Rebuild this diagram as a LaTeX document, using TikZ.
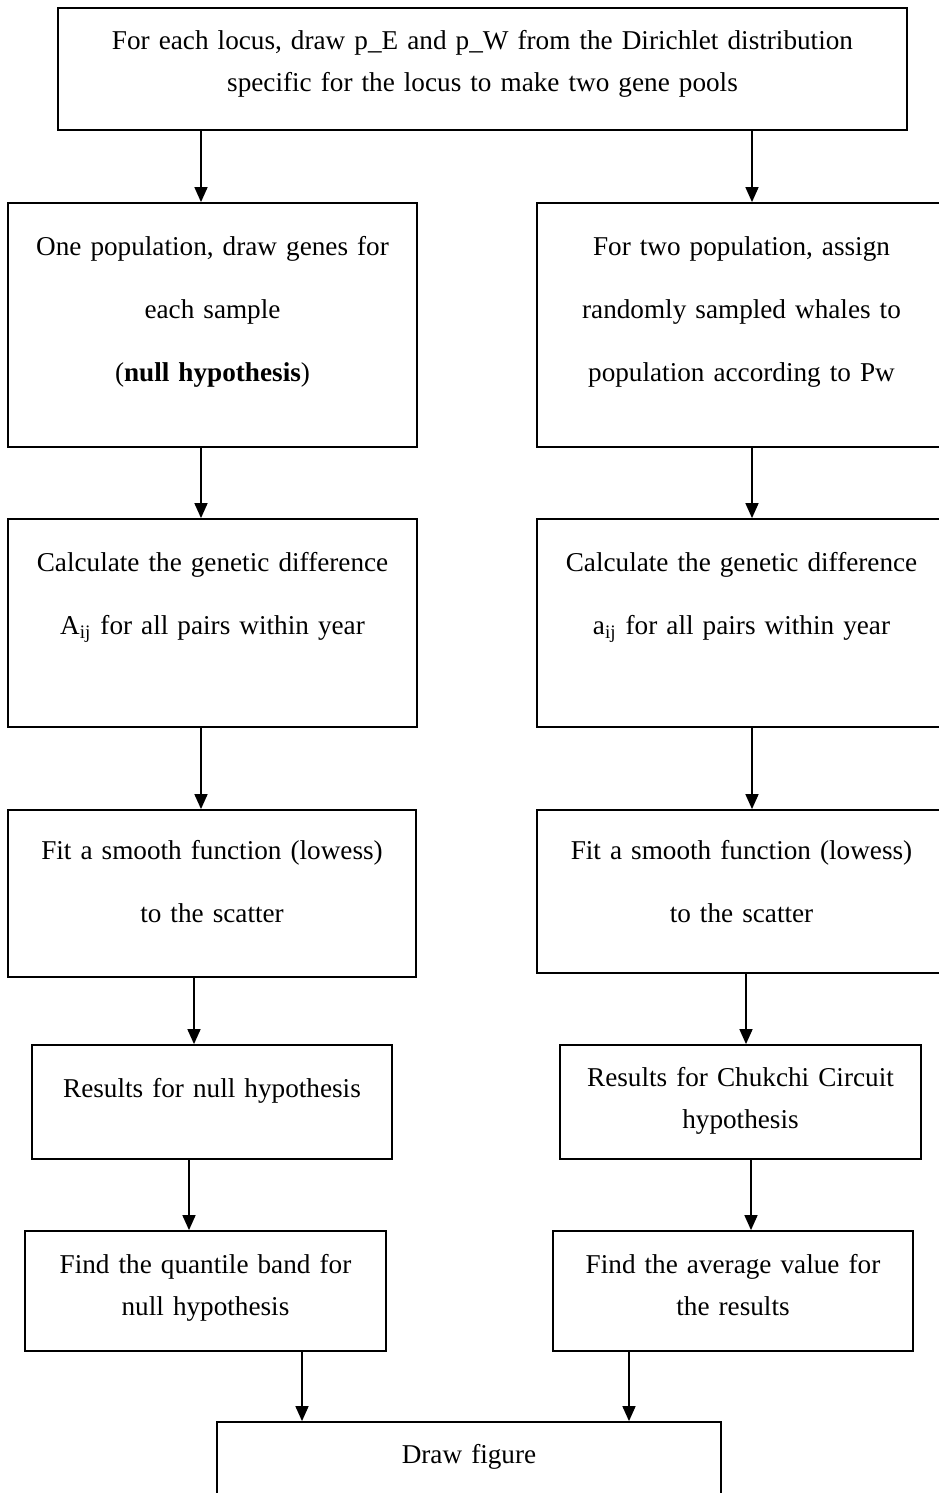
\documentclass[tikz,border=0pt]{standalone}
\usepackage{fontspec}
\setmainfont{Liberation Serif}
\usetikzlibrary{arrows.meta,positioning}
\tikzset{
  flowbox/.style={draw, line width=0.9pt, inner sep=0pt, align=center},
  flowarrow/.style={-{Triangle[length=7.5pt,width=6.5pt]}, line width=0.8pt},
}
\newcommand{\flowtight}{\fontsize{13.6}{21}\selectfont}
\newcommand{\flowloose}{\fontsize{13.6}{31.5}\selectfont}

\begin{document}
\begin{tikzpicture}[x=0.5pt,y=-0.5pt]
  \useasboundingbox (0,0) rectangle (938,1493);
  % Gene pools
  \node[flowbox, text width=424.5pt, text height=21pt, text depth=40pt, font=\flowtight] (pools) at (482.5,69) {For each locus, draw p\_E and p\_W from the Dirichlet distribution\\specific for the locus to make two gene pools};
  % Null hypothesis branch
  \node[flowbox, text width=204.5pt, text height=26pt, text depth=96pt, font=\flowloose] (nullpop) at (212.5,325) {One population, draw genes for\\each sample\\(\textbf{null hypothesis})};
  \node[flowbox, text width=204.5pt, text height=26pt, text depth=78pt, font=\flowloose] (nulldiff) at (212.5,623) {Calculate the genetic difference\\A\textsubscript{ij} for all pairs within year};
  \node[flowbox, text width=204pt, text height=24.5pt, text depth=59pt, font=\flowloose] (nullfit) at (212,893.5) {Fit a smooth function (lowess)\\to the scatter};
  \node[flowbox, text width=180pt, text height=26pt, text depth=31pt, font=\flowtight] (nullres) at (212,1102) {Results for null hypothesis};
  \node[flowbox, text width=180.5pt, text height=21pt, text depth=39pt, font=\flowtight] (band) at (205.5,1291) {Find the quantile band for\\null hypothesis};
  % Chukchi Circuit branch
  \node[flowbox, text width=204.5pt, text height=26pt, text depth=96pt, font=\flowloose] (twopop) at (741.5,325) {For two population, assign\\randomly sampled whales to\\population according to Pw};
  \node[flowbox, text width=204.5pt, text height=26pt, text depth=78pt, font=\flowloose] (twodiff) at (741.5,623) {Calculate the genetic difference\\a\textsubscript{ij} for all pairs within year};
  \node[flowbox, text width=204.5pt, text height=24.5pt, text depth=57pt, font=\flowloose] (twofit) at (741.5,891.5) {Fit a smooth function (lowess)\\to the scatter};
  \node[flowbox, text width=180.5pt, text height=20.5pt, text depth=36.5pt, font=\flowtight] (twores) at (740.5,1102) {Results for Chukchi Circuit\\hypothesis};
  \node[flowbox, text width=180pt, text height=21pt, text depth=39pt, font=\flowtight] (avg) at (733,1291) {Find the average value for\\the results};
  % Final step
  \node[flowbox, text width=252pt, text height=20.5pt, text depth=39.5pt, font=\flowtight] (figure) at (469,1482) {Draw figure};
  % Arrows
  \draw[flowarrow] ([xshift=-5.75pt]nullpop.north |- pools.south) -- ([xshift=-5.75pt]nullpop.north);
  \draw[flowarrow] ([xshift=5.25pt]twopop.north |- pools.south) -- ([xshift=5.25pt]twopop.north);
  \draw[flowarrow] ([xshift=-5.75pt]nullpop.south) -- ([xshift=-5.75pt]nulldiff.north);
  \draw[flowarrow] ([xshift=5.25pt]twopop.south) -- ([xshift=5.25pt]twodiff.north);
  \draw[flowarrow] ([xshift=-5.5pt]nullfit.north |- nulldiff.south) -- ([xshift=-5.5pt]nullfit.north);
  \draw[flowarrow] ([xshift=5.25pt]twodiff.south) -- ([xshift=5.25pt]twofit.north);
  \draw[flowarrow] ([xshift=-9pt]nullres.north |- nullfit.south) -- ([xshift=-9pt]nullres.north);
  \draw[flowarrow] ([xshift=2.75pt]twores.north |- twofit.south) -- ([xshift=2.75pt]twores.north);
  \draw[flowarrow] ([xshift=-8.25pt]band.north |- nullres.south) -- ([xshift=-8.25pt]band.north);
  \draw[flowarrow] ([xshift=9pt]avg.north |- twores.south) -- ([xshift=9pt]avg.north);
  \draw[flowarrow] ([xshift=-83.5pt]figure.north |- band.south) -- ([xshift=-83.5pt]figure.north);
  \draw[flowarrow] ([xshift=80pt]figure.north |- avg.south) -- ([xshift=80pt]figure.north);
\end{tikzpicture}
\end{document}
